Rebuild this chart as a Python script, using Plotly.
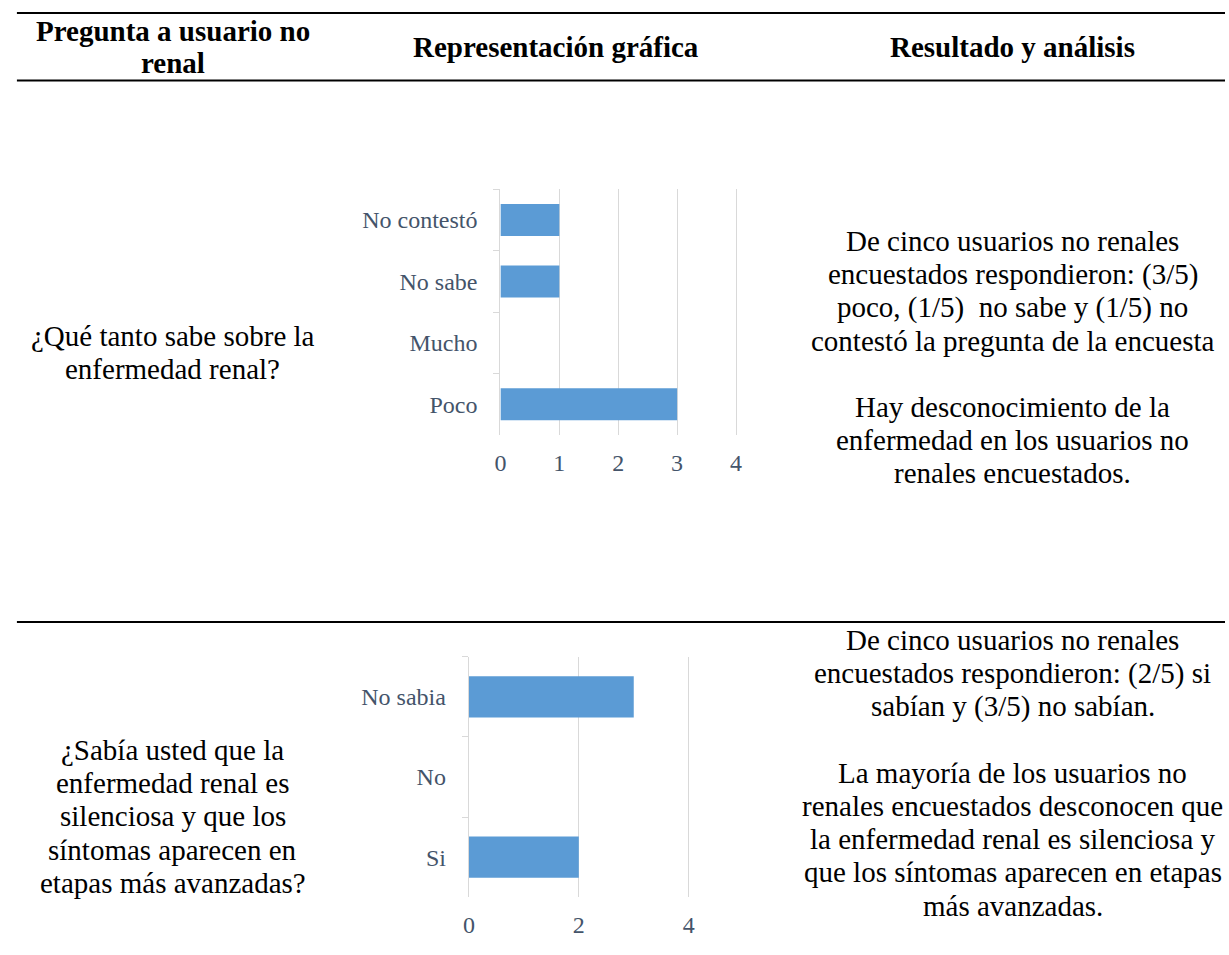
import plotly.graph_objects as go

W, H = 1229, 955

# ---------------- data ----------------
q1_categories = ["Poco", "Mucho", "No sabe", "No contestó"]
q1_values = [3, 0, 1, 1]
q1_ticks = [0, 1, 2, 3, 4]

q2_categories = ["Si", "No", "No sabia"]
q2_values = [2, 0, 3]
q2_ticks = [0, 2, 4]

header_col1 = ["Pregunta a usuario no", "renal"]
header_col2 = ["Representación gráfica"]
header_col3 = ["Resultado y análisis"]

q1_question = ["¿Qué tanto sabe sobre la", "enfermedad renal?"]
q1_result = ["De cinco usuarios no renales",
             "encuestados respondieron: (3/5)",
             "poco, (1/5)\u00a0 no sabe y (1/5) no",
             "contestó la pregunta de la encuesta",
             "",
             "Hay desconocimiento de la",
             "enfermedad en los usuarios no",
             "renales encuestados."]

q2_question = ["¿Sabía usted que la", "enfermedad renal es", "silenciosa y que los",
               "síntomas aparecen en", "etapas más avanzadas?"]
q2_result = ["De cinco usuarios no renales",
             "encuestados respondieron: (2/5) si",
             "sabían y (3/5) no sabían.",
             "",
             "La mayoría de los usuarios no",
             "renales encuestados desconocen que",
             "la enfermedad renal es silenciosa y",
             "que los síntomas aparecen en etapas",
             "más avanzadas."]

# ---------------- styles ----------------
FONT = "Liberation Serif"
TICK_COLOR = "#44546A"
GRID = "#D9D9D9"
BAR = "#5B9BD5"
LINE_H = 33.2
XMAX = 4.03  # a hair past 4 so the gridline at 4 is drawn

def px_x(x):
    return x / W

def px_y(y):
    return 1 - y / H

fig = go.Figure()

fig.add_trace(go.Bar(y=q1_categories, x=q1_values, orientation="h", width=0.52,
                     marker=dict(color=BAR, line=dict(width=0)),
                     xaxis="x", yaxis="y", hoverinfo="skip"))
fig.add_trace(go.Bar(y=q2_categories, x=q2_values, orientation="h", width=0.515,
                     marker=dict(color=BAR, line=dict(width=0)),
                     xaxis="x2", yaxis="y2", hoverinfo="skip"))

tickfont = dict(family=FONT, size=24, color=TICK_COLOR)

def xaxis_cfg(x0px, x4px, anchor, ticks):
    unit = (x4px - x0px) / 4
    return dict(domain=[px_x(x0px), px_x(x0px + unit * XMAX)], anchor=anchor,
                range=[0, XMAX], tickvals=ticks,
                showgrid=True, gridcolor=GRID, gridwidth=1.3, zeroline=False,
                showline=False, ticks="", tickfont=tickfont, ticklabelstandoff=11,
                fixedrange=True)

def yaxis_cfg(domain, anchor, cats):
    return dict(domain=domain, anchor=anchor, type="category",
                categoryorder="array", categoryarray=cats,
                range=[-0.5, len(cats) - 0.5],
                showgrid=False, zeroline=False, showline=True, linecolor=GRID,
                linewidth=1.3, ticks="outside", ticklen=6, tickcolor=GRID,
                tickwidth=1.3, tickson="boundaries", tickfont=tickfont,
                ticklabelstandoff=17, fixedrange=True)

fig.update_layout(
    width=W, height=H,
    margin=dict(l=0, r=0, t=0, b=0),
    paper_bgcolor="white", plot_bgcolor="white",
    showlegend=False,
    font=dict(family=FONT),
    xaxis=xaxis_cfg(498.5, 736, "y", q1_ticks),
    yaxis=yaxis_cfg([px_y(435), px_y(189.3)], "x", q1_categories),
    xaxis2=xaxis_cfg(466.7, 688.3, "y2", q2_ticks),
    yaxis2=yaxis_cfg([px_y(897.3), px_y(656.7)], "x2", q2_categories),
)

# table rules
for yy in [13, 80.5, 622]:
    fig.add_shape(type="line", xref="paper", yref="paper",
                  x0=px_x(11), x1=1.0, y0=px_y(yy), y1=px_y(yy),
                  line=dict(color="black", width=2.2))

def add_lines(lines, xc, y_first, bold=False, step=LINE_H):
    for i, t in enumerate(lines):
        if not t:
            continue
        txt = f"<b>{t}</b>" if bold else t
        fig.add_annotation(text=txt, x=px_x(xc), y=px_y(y_first + i * step),
                           xref="paper", yref="paper", showarrow=False,
                           xanchor="center", yanchor="middle",
                           font=dict(family=FONT, size=29, color="black"))

add_lines(header_col1, 168, 31, bold=True, step=32)
add_lines(header_col2, 555, 47, bold=True)
add_lines(header_col3, 1015, 47, bold=True)

add_lines(q1_question, 168, 336)
add_lines(q1_result, 1015, 241)
add_lines(q2_question, 168, 750)
add_lines(q2_result, 1015, 640)

fig.write_html("out.html")
